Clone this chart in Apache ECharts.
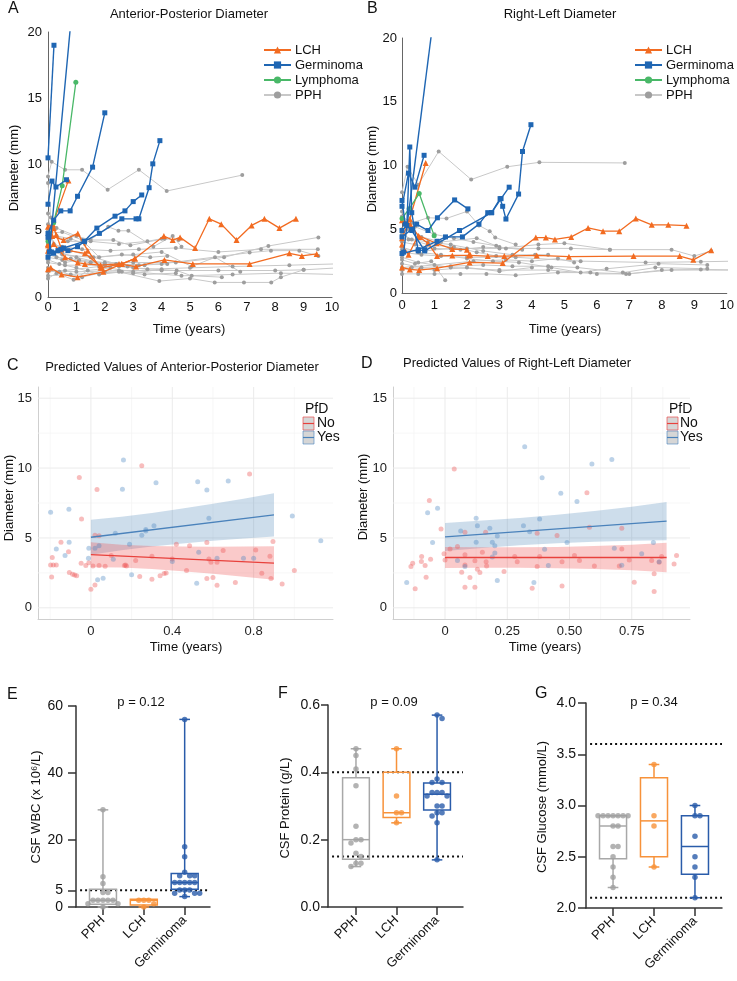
<!DOCTYPE html>
<html>
<head>
<meta charset="utf-8">
<script src="https://cdn.jsdelivr.net/npm/echarts@6/dist/echarts.min.js"></script>
<style>
html,body{margin:0;padding:0;background:#fff}
#main{width:737px;height:981px}
</style>
</head>
<body>
<div id="main"></div>
<script>
// ---- A: anterior-posterior diameter, one track per patient [years, mm]
var apLCH = [
  [[0,5.3],[0.17,5.5],[0.72,8.8]],
  [[0,4.0],[0.15,4.6],[0.55,4.3],[1.05,4.8],[1.4,3.5],[1.85,2.2],[2.6,2.5],[3.06,2.9],[4.08,4.6],[4.39,4.3],[4.65,4.5],[5.18,3.7],[5.68,5.9],[6.1,5.5],[6.64,4.3],[7.17,5.4],[7.62,5.9],[8.15,5.2],[8.73,5.9]],
  [[0,3.5],[0.2,4.0],[0.6,3.0],[1.05,2.6],[1.3,2.5],[1.85,2.4],[2.5,2.5],[3.1,2.3],[4.1,2.8],[5.1,2.5],[7.1,2.5],[8.5,3.3],[8.94,3.1],[9.46,3.25]],
  [[0,2.1],[0.1,2.2],[0.48,1.7],[1.04,1.5],[1.95,1.9],[2.6,2.5],[3.06,2.9]],
  [[0,3.9],[0.2,5.2],[0.29,4.7],[0.48,3.6],[1.3,3.3],[1.9,2.2]]
];
var apGerm = [
  [[0,10.5],[0.21,19.0]],
  [[0.05,3.4],[0.85,21.8]],
  [[0,7.0],[0.14,8.75],[0.28,8.3],[0.65,8.85]],
  [[0,4.8],[0.2,5.8],[0.45,6.5],[0.78,6.5],[1.04,7.6],[1.57,9.8],[2.0,13.9]],
  [[0,3.0],[0.2,3.3],[0.45,3.6],[0.7,3.5],[1.04,3.8],[1.28,4.2],[1.72,5.2],[2.36,6.1],[2.71,6.5],[3.0,7.2],[3.3,7.7]],
  [[0,4.5],[0.12,3.4],[0.35,3.5],[0.55,3.7],[1.28,4.2],[1.81,4.8],[2.6,5.9],[3.1,5.9],[3.2,5.9],[3.56,8.25],[3.69,10.05],[3.94,11.8]]
];
var apLymph = [
  [[0,4.2],[0.2,5.6],[0.5,8.4],[0.98,16.2]]
];
var apPPH = [
  [[0,9.1],[0.13,10.2],[0.6,9.6],[1.2,9.6],[2.1,8.1],[3.2,9.6],[4.18,8.0],[6.84,9.2]],
  [[0,3.0],[0.5,2.8],[1.5,2.6],[3.0,2.6],[4.5,2.6],[6.2,3.0],[7.76,3.85],[9.52,4.5]],
  [[0,2.6],[0.6,2.4],[2.0,2.4],[4.0,2.5],[7.1,3.35],[7.85,3.5],[8.85,3.5],[9.52,3.1]],
  [[0,2.0],[1.0,1.9],[2.5,2.0],[4.0,2.0],[6.0,2.0],[8.0,2.0],[9.0,2.05],[10.2,2.2]],
  [[0,1.6],[0.8,1.7],[2.5,1.9],[3.92,1.2],[5.0,1.4],[5.87,1.1],[6.9,1.1],[7.86,1.1],[8.2,1.5],[9.0,2.05]],
  [[0,3.5],[0.5,3.2],[1.5,3.0],[3.0,3.2],[4.0,3.4],[5.06,2.3],[5.88,3.0],[6.77,1.9]],
  [[0,4.5],[0.3,4.6],[0.8,4.4],[1.3,4.0],[2.12,5.3],[2.48,5.0],[2.83,5.0],[3.71,3.8],[4.39,4.6],[4.7,3.8]],
  [[0,6.3],[0.1,4.5],[0.5,3.3],[1.0,3.0],[2.0,2.5],[3.0,2.2],[4.53,2.0],[5.06,1.6],[6.12,1.5]],
  [[0,8.6],[0.1,6.0],[0.3,4.6],[0.7,4.2],[1.5,4.2],[2.5,4.0],[3.5,4.2],[4.0,4.4]],
  [[0,3.2],[0.3,3.0],[0.8,2.9],[1.5,2.6],[2.5,2.3],[3.5,2.1],[5.0,2.2],[6.5,2.3],[8.5,2.4],[10.2,2.5]],
  [[0,2.2],[0.4,1.9],[1.2,1.5],[2.0,1.9],[3.0,1.8],[4.0,2.1]],
  [[0,5.0],[0.2,4.0],[0.8,3.5],[1.6,3.0],[2.4,2.5],[3.2,2.4],[4.2,2.5]],
  [[0,4.0],[0.5,3.8],[1.2,3.6],[2.2,3.5],[3.2,3.6],[4.5,3.7],[6.0,3.4],[7.5,3.6],[9.5,3.6]],
  [[0,2.8],[0.4,2.5],[1.0,2.2],[1.8,1.7],[2.6,1.9],[3.4,1.7],[4.5,1.8]],
  [[0,3.8],[0.2,3.3],[0.6,2.6],[1.1,2.8],[2.0,2.6],[2.8,2.3],[3.4,2.4]],
  [[0,1.4],[0.3,1.8],[0.9,1.3],[1.4,2.0],[2.2,2.2]],
  [[0,4.8],[0.5,4.9],[1.2,4.3],[1.8,3.0],[2.6,3.2],[3.6,3.0],[4.2,3.1]],
  [[0,5.5],[0.3,5.2],[1.0,4.6],[1.5,4.3],[2.3,4.3],[2.9,3.9],[4.1,4.4],[4.6,4.3]],
  [[0,1.9],[0.6,2.0],[1.8,2.3],[3.0,1.9],[4.7,1.6],[6.5,1.7],[8.2,1.8],[10.2,1.7]]
];

// ---- B: right-left diameter
var rlLCH = [
  [[0,4.3],[0.24,5.8],[0.73,10.2]],
  [[0,2.0],[0.24,1.85],[0.53,1.8],[1.08,1.95],[2.08,2.4],[3.1,2.35],[4.12,4.35],[4.43,4.35],[4.71,4.2],[5.21,4.4],[5.73,5.1],[6.19,4.85],[6.69,4.85],[7.2,5.85],[7.69,5.35],[8.2,5.35],[8.76,5.28]],
  [[0,5.7],[0.25,5.4],[0.53,4.4],[0.8,3.9],[1.08,2.9],[1.55,2.95],[2.06,2.95],[2.64,2.9],[3.15,2.9],[4.15,2.95],[5.14,2.85],[7.13,2.9],[8.55,2.9],[8.97,2.6],[9.52,3.35]],
  [[0,3.8],[0.2,3.0],[0.5,4.5],[1.06,3.9],[1.55,3.45],[2.0,3.4],[2.1,3.0]]
];
var rlGerm = [
  [[0.05,3.2],[0.95,21.2]],
  [[0,4.9],[0.15,5.3],[0.24,11.45],[0.3,6.3],[0.5,3.3],[0.7,3.4]],
  [[0,6.8],[0.2,9.4],[0.4,8.3],[0.68,10.8]],
  [[0,4.4],[0.3,5.0],[0.45,5.4],[0.8,4.9],[1.09,5.9],[1.62,7.3],[2.03,6.6]],
  [[0,3.1],[0.5,3.4],[1.08,4.06],[1.34,4.4],[1.86,4.4],[2.37,5.4],[2.64,6.3],[2.76,6.3],[3.02,7.4],[3.1,6.8],[3.2,5.8],[3.59,7.76],[3.71,11.1],[3.97,13.2]],
  [[0,7.26],[0.1,5.4],[0.3,4.9],[0.7,3.3],[1.77,4.9],[2.76,6.3],[3.05,7.4],[3.3,8.3]]
];
var rlLymph = [
  [[0,5.85],[0.22,6.6],[0.53,7.8],[0.99,4.5]]
];
var rlPPH = [
  [[0,7.9],[0.17,9.9],[0.5,8.5],[1.13,11.1],[2.13,8.9],[3.24,9.9],[4.23,10.25],[6.86,10.2]],
  [[0,6.0],[0.3,5.5],[0.8,5.9],[1.37,5.85],[2.0,6.4],[2.37,5.3],[2.7,4.85],[2.87,4.35],[3.5,3.8]],
  [[0,3.2],[0.6,3.0],[1.2,2.9],[2.0,2.8],[3.5,2.8],[5.5,2.5],[7.5,2.4],[9.2,2.45],[10.3,2.5]],
  [[0,2.8],[0.5,2.4],[1.5,2.0],[3.0,1.8],[4.5,1.8],[6.0,1.5],[7.0,1.5],[8.0,1.8],[9.2,1.85],[10.3,1.8]],
  [[0,1.5],[0.5,1.5],[1.0,1.5],[1.8,1.5],[2.6,1.5],[3.5,1.4],[4.8,1.6],[5.8,1.6],[6.9,1.5],[8.3,1.8],[10.3,1.8]],
  [[0,4.0],[0.4,3.8],[1.0,3.5],[1.8,3.4],[2.5,3.6],[3.2,3.5],[4.2,3.5],[5.2,3.5],[6.4,3.4]],
  [[0,3.6],[0.5,3.2],[1.2,3.0],[2.0,2.7],[2.8,2.5],[3.6,2.4],[4.6,2.0],[5.5,1.6],[6.3,1.9],[7.9,2.3],[9.4,2.2]],
  [[0,5.0],[0.2,4.2],[0.8,3.8],[1.6,3.6],[2.3,3.2],[2.9,2.9]],
  [[0,2.6],[0.4,2.3],[0.9,2.5],[1.33,1.0]],
  [[0,4.6],[0.3,4.2],[0.8,4.0],[1.5,3.8],[2.5,3.3],[3.4,3.0],[4.1,3.0],[4.5,3.0]],
  [[0,3.4],[0.7,3.3],[1.5,3.5],[2.0,3.5],[3.0,3.5],[4.2,3.8],[5.0,3.9],[6.4,3.4],[8.3,3.4],[9.0,2.9],[9.52,3.3]],
  [[0,2.3],[0.6,2.0],[1.5,2.1],[2.5,2.2],[3.4,2.1],[4.5,2.1],[5.4,2.0],[6.8,1.6],[7.8,2.0],[9.4,1.9]],
  [[0,1.8],[0.3,2.0],[1.0,1.8],[2.0,2.0],[3.0,1.7],[4.0,2.0]],
  [[0,4.8],[0.4,5.2],[1.0,4.6],[1.6,4.3],[2.2,4.0],[2.9,3.7]],
  [[0,2.0],[1.0,2.2],[2.2,2.5],[3.2,2.6],[4.0,2.5],[4.8,2.7],[5.3,2.4]],
  [[0,6.4],[0.2,5.0],[0.6,4.4],[1.2,4.0],[2.3,4.3],[3.0,3.6],[3.7,3.4]]
];

// ---- C: predicted AP diameter, points [years, mm]
var cNoPts = [[-0.198,3.07],[-0.185,3.07],[-0.17,3.07],[-0.19,3.6],[-0.193,2.2],[-0.147,4.7],[-0.11,4.02],[-0.106,2.52],[-0.09,2.4],[-0.08,2.35],[-0.07,2.3],[-0.057,9.33],[-0.046,6.36],[-0.048,3.19],[-0.025,3.02],[-0.01,3.23],[0,1.33],[0.02,5.2],[0.04,5.15],[0.01,3.0],[0.04,3.02],[0.07,2.98],[0.03,8.47],[0.02,1.64],[0.1,3.74],[0.165,3.02],[0.17,3.06],[0.175,3.0],[0.22,3.38],[0.25,10.17],[0.24,2.24],[0.3,3.69],[0.3,2.05],[0.34,2.3],[0.36,2.45],[0.37,2.5],[0.4,3.5],[0.42,4.55],[0.47,2.67],[0.485,4.45],[0.57,4.67],[0.57,2.1],[0.6,2.17],[0.58,3.5],[0.59,3.26],[0.62,3.26],[0.62,1.62],[0.65,4.1],[0.71,1.81],[0.78,9.57],[0.81,4.14],[0.84,2.48],[0.88,3.69],[0.885,2.1],[0.895,4.74],[0.94,1.71],[1.0,2.67]];
var cYesPts = [[-0.198,6.83],[-0.108,7.05],[-0.107,4.7],[-0.17,4.21],[-0.127,3.74],[-0.01,4.26],[-0.012,3.55],[0.02,4.26],[0.04,4.45],[0.033,2.0],[0.06,2.12],[0.12,5.33],[0.11,3.48],[0.155,8.48],[0.16,10.57],[0.19,4.55],[0.2,2.36],[0.25,5.2],[0.27,5.6],[0.27,5.5],[0.31,5.88],[0.32,8.95],[0.4,3.31],[0.52,1.76],[0.525,9.02],[0.53,3.98],[0.57,8.43],[0.58,6.4],[0.62,3.55],[0.675,9.07],[0.75,3.55],[0.8,3.55],[0.99,6.57],[1.13,4.8]];
var cBandT = [0,0.15,0.3,0.45,0.6,0.75,0.9];
var cNoUp = [4.7,4.52,4.42,4.38,4.37,4.38,4.4];
var cNoLo = [2.9,2.88,2.78,2.62,2.43,2.22,2.0];
var cYesUp = [6.3,6.52,6.78,7.1,7.44,7.8,8.2];
var cYesLo = [3.8,4.12,4.38,4.6,4.8,4.96,5.1];
var cFitT = [0,0.9];
var cNoFit = [3.8,3.2];
var cYesFit = [5.05,6.65];
var cXMajor = [0,0.4,0.8], cXMinor = [-0.2,0.2,0.6,1.0];

// ---- D: predicted RL diameter
var dNoPts = [[-0.137,2.95],[-0.13,3.19],[-0.094,3.67],[-0.095,3.31],[-0.08,3.02],[-0.076,2.19],[-0.12,1.36],[-0.063,7.67],[-0.058,3.48],[-0.016,5.64],[-0.004,3.86],[0,3.43],[0.02,4.21],[0.037,9.93],[0.05,4.38],[0.08,5.4],[0.067,2.55],[0.08,3.07],[0.08,3.8],[0.08,1.48],[0.1,2.17],[0.12,3.36],[0.13,2.76],[0.14,2.52],[0.12,1.48],[0.15,3.98],[0.163,5.4],[0.165,3.3],[0.167,3.0],[0.237,2.6],[0.28,3.67],[0.29,3.3],[0.35,1.4],[0.37,2.95],[0.37,5.33],[0.38,3.67],[0.45,5.17],[0.47,1.57],[0.47,3.3],[0.52,3.74],[0.54,3.38],[0.57,8.24],[0.58,5.76],[0.6,3.0],[0.7,3.0],[0.71,4.21],[0.71,5.69],[0.74,3.43],[0.76,1.83],[0.83,3.38],[0.84,2.43],[0.84,1.17],[0.86,3.26],[0.87,3.67],[0.92,3.14],[0.93,3.74]];
var dYesPts = [[-0.154,1.81],[-0.07,6.81],[-0.03,7.12],[-0.05,4.67],[0.05,3.38],[0.063,5.5],[0.08,2.95],[0.125,6.4],[0.13,5.88],[0.125,4.7],[0.18,5.69],[0.19,4.7],[0.19,3.64],[0.2,3.93],[0.2,4.45],[0.21,5.14],[0.21,1.95],[0.315,5.88],[0.32,11.52],[0.34,5.45],[0.357,1.81],[0.38,6.36],[0.39,9.31],[0.4,4.19],[0.415,3.02],[0.465,8.19],[0.49,4.67],[0.53,7.6],[0.59,10.29],[0.67,10.62],[0.68,4.26],[0.71,3.05],[0.79,3.86],[0.837,4.67],[0.86,3.3]];
var dBandT = [0,0.15,0.3,0.45,0.6,0.75,0.89];
var dNoUp = [4.35,4.33,4.33,4.36,4.42,4.52,4.65];
var dNoLo = [2.85,2.87,2.87,2.84,2.78,2.68,2.55];
var dYesUp = [6.07,6.24,6.43,6.66,6.93,7.24,7.57];
var dYesLo = [4.07,4.28,4.47,4.62,4.73,4.8,4.83];
var dFitT = [0,0.89];
var dNoFit = [3.6,3.6];
var dYesFit = [5.07,6.2];
var dXMajor = [0,0.25,0.5,0.75], dXMinor = [-0.125,0.125,0.375,0.625,0.875];
var cdYMajor = [0,5,10,15], cdYMinor = [2.5,7.5,12.5];

// ---- E/F/G: CSF values per group
var groups = ['PPH', 'LCH', 'Germinoma'];
var wbcPts = [
  [29,9,7,4.3,4.3,2,2,2,2,2,1,1,0],
  [2,2,2,1,0],
  [56,18,15,10.4,9.3,9.3,9.3,7.3,7.3,7.3,7.3,7.3,5.1,5.1,5.1,4.1,4.1,4.1,3.1]
];
var wbcBox = [[0,0.8,2,5.3,29],[0,0.6,2,2.3,2.3],[3.1,5.3,7.3,10.0,56]]; // min,q1,median,q3,max
var protPts = [
  [0.47,0.45,0.41,0.36,0.24,0.20,0.20,0.19,0.16,0.15,0.13,0.13,0.12],
  [0.47,0.33,0.28,0.28,0.25],
  [0.57,0.56,0.38,0.37,0.37,0.34,0.34,0.34,0.33,0.33,0.30,0.30,0.28,0.28,0.27,0.25,0.14]
];
var protBox = [[0.12,0.142,0.20,0.384,0.47],[0.25,0.266,0.28,0.40,0.47],[0.14,0.288,0.335,0.368,0.57]];
var glucPts = [
  [2.9,2.9,2.9,2.9,2.9,2.9,2.9,2.8,2.8,2.6,2.6,2.5,2.4,2.3,2.2],
  [3.4,2.9,2.8,2.4],
  [3.0,2.9,2.9,2.7,2.5,2.4,2.3,2.1]
];
var glucBox = [[2.2,2.48,2.8,2.9,2.9],[2.4,2.5,2.85,3.27,3.4],[2.1,2.33,2.6,2.9,3.0]];
var wbcRef = [5], protRef = [0.4, 0.15], glucRef = [3.6, 2.1];
var pValues = ['p = 0.12', 'p = 0.09', 'p = 0.34'];

// ---------------------------------------------------------------
var FONT = '"Liberation Sans", Arial, Helvetica, sans-serif';
var C_LCH = '#f26b21', C_GERM = '#1f66b3', C_LYM = '#49b868', C_PPH = '#9e9e9e', C_PPHL = '#c8c8c8';
var RED = '#e8413c', BLUE = '#4a82bb';
var boxColors = ['#a8a8a8', '#f7923a', '#2a5caa'];

var chart = echarts.init(document.getElementById('main'), null, {renderer: 'canvas'});
var series = [];

function tracks(list, name, gi, color, lineColor, symbol, size, width, z) {
  list.forEach(function (d) {
    series.push({
      type: 'line', name: name, xAxisIndex: gi, yAxisIndex: gi, data: d,
      symbol: symbol, symbolSize: size, showSymbol: true, showAllSymbol: true,
      lineStyle: {color: lineColor, width: width}, itemStyle: {color: color},
      clip: true, silent: true, z: z
    });
  });
}
tracks(apPPH, 'PPH', 0, C_PPH, C_PPHL, 'circle', 4, 1, 2);
tracks(apLCH, 'LCH', 0, C_LCH, C_LCH, 'triangle', 6, 1.3, 3);
tracks(apLymph, 'Lymphoma', 0, C_LYM, C_LYM, 'circle', 5, 1.3, 3);
tracks(apGerm, 'Germinoma', 0, C_GERM, C_GERM, 'rect', 5, 1.4, 4);
tracks(rlPPH, 'PPH', 1, C_PPH, C_PPHL, 'circle', 4, 1, 2);
tracks(rlLCH, 'LCH', 1, C_LCH, C_LCH, 'triangle', 6, 1.3, 3);
tracks(rlLymph, 'Lymphoma', 1, C_LYM, C_LYM, 'circle', 5, 1.3, 3);
tracks(rlGerm, 'Germinoma', 1, C_GERM, C_GERM, 'rect', 5, 1.4, 4);

function seg(gi, a, b, style, z) {
  series.push({type: 'line', xAxisIndex: gi, yAxisIndex: gi, data: [a, b], symbol: 'none',
    lineStyle: style, silent: true, z: z});
}
function gridLines(gi, xr, yr, xMaj, xMin, yMaj, yMin) {
  var maj = {color: '#ebebeb', width: 1}, mnr = {color: '#f4f4f4', width: 0.7};
  xMin.forEach(function (x) { seg(gi, [x, yr[0]], [x, yr[1]], mnr, 0); });
  yMin.forEach(function (y) { seg(gi, [xr[0], y], [xr[1], y], mnr, 0); });
  xMaj.forEach(function (x) { seg(gi, [x, yr[0]], [x, yr[1]], maj, 0); });
  yMaj.forEach(function (y) { seg(gi, [xr[0], y], [xr[1], y], maj, 0); });
}
function band(gi, ts, up, lo, fill) {
  series.push({
    type: 'custom', xAxisIndex: gi, yAxisIndex: gi, data: [[ts[0], up[0]]], silent: true, z: 2,
    renderItem: function (params, api) {
      var pts = [], i;
      for (i = 0; i < ts.length; i++) pts.push(api.coord([ts[i], up[i]]));
      for (i = ts.length - 1; i >= 0; i--) pts.push(api.coord([ts[i], lo[i]]));
      return {type: 'polygon', shape: {points: pts}, style: {fill: fill}};
    }
  });
}
function pts(gi, data, color) {
  series.push({type: 'scatter', xAxisIndex: gi, yAxisIndex: gi, data: data, symbolSize: 5,
    itemStyle: {color: color}, silent: true, z: 3});
}
function fit(gi, ts, vals, color) {
  series.push({type: 'line', xAxisIndex: gi, yAxisIndex: gi,
    data: ts.map(function (t, i) { return [t, vals[i]]; }),
    symbol: 'none', lineStyle: {color: color, width: 1.3}, silent: true, z: 4});
}

var cXR = [-0.26, 1.19], dXR = [-0.209, 0.984], cdYR = [-0.8, 15.8];
gridLines(2, cXR, cdYR, cXMajor, cXMinor, cdYMajor, cdYMinor);
gridLines(3, dXR, cdYR, dXMajor, dXMinor, cdYMajor, cdYMinor);
band(2, cBandT, cYesUp, cYesLo, 'rgba(70,130,180,0.27)');
band(2, cBandT, cNoUp, cNoLo, 'rgba(240,80,80,0.30)');
band(3, dBandT, dYesUp, dYesLo, 'rgba(70,130,180,0.27)');
band(3, dBandT, dNoUp, dNoLo, 'rgba(240,80,80,0.30)');
pts(2, cNoPts, 'rgba(238,90,90,0.5)');
pts(2, cYesPts, 'rgba(70,130,190,0.45)');
pts(3, dNoPts, 'rgba(238,90,90,0.5)');
pts(3, dYesPts, 'rgba(70,130,190,0.45)');
fit(2, cFitT, cNoFit, RED);
fit(2, cFitT, cYesFit, BLUE);
fit(3, dFitT, dNoFit, RED);
fit(3, dFitT, dYesFit, BLUE);

// beeswarm in pixel space so dots of equal values sit side by side
function swarm(vals, c, pxX, pxY) {
  var d = 5, placed = [];
  vals.slice().sort(function (a, b) { return b - a; }).forEach(function (v) {
    var y = v * pxY;
    for (var k = 0; k < 60; k++) {
      var cands = k === 0 ? [0] : [k * d / 2, -k * d / 2], got = null;
      for (var j = 0; j < cands.length && got === null; j++) {
        var x = cands[j], hit = false;
        for (var p = 0; p < placed.length; p++) {
          var dx = placed[p].x - x, dy = placed[p].y - y;
          if (dx * dx + dy * dy < d * d * 0.95) { hit = true; break; }
        }
        if (!hit) got = x;
      }
      if (got !== null) { placed.push({x: got, y: y, v: v}); break; }
    }
  });
  return placed.map(function (p) { return [c + p.x / pxX, p.v]; });
}

function boxPanel(gi, boxes, points, refs, xr, yr, gw, gh) {
  var pxX = gw / (xr[1] - xr[0]), pxY = gh / (yr[1] - yr[0]);
  refs.forEach(function (r) {
    seg(gi, [xr[0] + 0.1, r], [xr[1], r], {color: '#111', width: 2, type: [2, 3]}, 1);
  });
  series.push({
    type: 'custom', xAxisIndex: gi, yAxisIndex: gi, silent: true, z: 2,
    data: boxes.map(function (b, i) { return [i].concat(b); }),
    renderItem: function (params, api) {
      var x = api.value(0), col = boxColors[params.dataIndex];
      var w = api.size([0.66, 0])[0], cw = api.size([0.26, 0])[0];
      var mn = api.coord([x, api.value(1)]), q1 = api.coord([x, api.value(2)]),
          md = api.coord([x, api.value(3)]), q3 = api.coord([x, api.value(4)]),
          mx = api.coord([x, api.value(5)]);
      var st = {stroke: col, lineWidth: 1.5, fill: 'none'};
      function ln(x1, y1, x2, y2) { return {type: 'line', shape: {x1: x1, y1: y1, x2: x2, y2: y2}, style: st}; }
      return {type: 'group', children: [
        ln(mn[0], mn[1], q1[0], q1[1]),
        ln(q3[0], q3[1], mx[0], mx[1]),
        ln(mn[0] - cw / 2, mn[1], mn[0] + cw / 2, mn[1]),
        ln(mx[0] - cw / 2, mx[1], mx[0] + cw / 2, mx[1]),
        {type: 'rect', shape: {x: q1[0] - w / 2, y: q3[1], width: w, height: q1[1] - q3[1]}, style: st},
        ln(md[0] - w / 2, md[1], md[0] + w / 2, md[1])
      ]};
    }
  });
  points.forEach(function (vals, i) {
    series.push({type: 'scatter', xAxisIndex: gi, yAxisIndex: gi, data: swarm(vals, i, pxX, pxY),
      symbolSize: 5.5, itemStyle: {color: boxColors[i] === '#a8a8a8' ? '#a0a0a0' : boxColors[i]},
      silent: true, z: 3});
  });
}
var eXR = [-0.66, 2.62], fXR = [-0.69, 2.64], gXR = [-0.66, 2.66];
boxPanel(4, wbcBox, wbcPts, wbcRef, eXR, [0, 60], 134, 201);
boxPanel(5, protBox, protPts, protRef, fXR, [0, 0.6], 135, 202);
boxPanel(6, glucBox, glucPts, glucRef, gXR, [2, 4], 136, 205);

// ---- axes
var lblA = {fontSize: 13, color: '#111', fontFamily: FONT};
function trackAxes(gi, xm, ym) {
  return [{
    gridIndex: gi, type: 'value', min: 0, max: 10, interval: 1,
    axisLine: {show: true, onZero: false, lineStyle: {color: '#666', width: 1}},
    axisTick: {show: false}, splitLine: {show: false},
    axisLabel: Object.assign({margin: xm}, lblA)
  }, {
    gridIndex: gi, type: 'value', min: 0, max: 20, interval: 5,
    axisLine: {show: true, onZero: false, lineStyle: {color: '#666', width: 1}},
    axisTick: {show: false}, splitLine: {show: false},
    axisLabel: Object.assign({margin: ym}, lblA)
  }];
}
function predAxes(gi, xr, xMaj, fmt) {
  return [{
    gridIndex: gi, type: 'value', min: xr[0], max: xr[1],
    axisLine: {show: true, onZero: false, lineStyle: {color: '#cfcfcf', width: 1}},
    axisTick: {show: false}, splitLine: {show: false},
    axisLabel: {customValues: xMaj, formatter: fmt, margin: 6, fontSize: 13, color: '#222', fontFamily: FONT}
  }, {
    gridIndex: gi, type: 'value', min: cdYR[0], max: cdYR[1],
    axisLine: {show: true, onZero: false, lineStyle: {color: '#cfcfcf', width: 1}},
    axisTick: {show: false}, splitLine: {show: false},
    axisLabel: {customValues: cdYMajor, margin: 6, fontSize: 13, color: '#222', fontFamily: FONT}
  }];
}
var dark = {color: '#333', width: 1.5};
function boxAxes(gi, xr, yAxis) {
  return [{
    gridIndex: gi, type: 'value', min: xr[0], max: xr[1],
    axisLine: {show: true, onZero: false, lineStyle: dark},
    axisTick: {show: true, customValues: [0, 1, 2], length: 8, lineStyle: dark},
    splitLine: {show: false},
    axisLabel: {customValues: [0, 1, 2], rotate: 45, margin: 11,
      formatter: function (v) { return groups[Math.round(v)]; },
      fontSize: 13, color: '#111', fontFamily: FONT}
  }, Object.assign({
    gridIndex: gi, type: 'value',
    axisLine: {show: true, onZero: false, lineStyle: dark},
    splitLine: {show: false}
  }, yAxis)];
}
var lblB = {fontSize: 14, color: '#111', fontFamily: FONT};
var ax = [
  trackAxes(0, 4, 6), trackAxes(1, 6, 5),
  predAxes(2, cXR, cXMajor, function (v) { return v === 0 ? '0' : String(v); }),
  predAxes(3, dXR, dXMajor, function (v) { return v === 0 ? '0' : v.toFixed(2); }),
  boxAxes(4, eXR, {min: 0, max: 60,
    axisTick: {show: true, customValues: [0, 5, 20, 40, 60], length: 8, lineStyle: dark},
    axisLabel: Object.assign({customValues: [0, 5, 20, 40, 60], margin: 13}, lblB)}),
  boxAxes(5, fXR, {min: 0, max: 0.6, interval: 0.2,
    axisTick: {show: true, length: 7, lineStyle: dark},
    axisLabel: Object.assign({margin: 8, formatter: function (v) { return v.toFixed(1); }}, lblB)}),
  boxAxes(6, gXR, {min: 2, max: 4, interval: 0.5,
    axisTick: {show: true, length: 8, lineStyle: dark},
    axisLabel: Object.assign({margin: 10, formatter: function (v) { return v.toFixed(1); }}, lblB)})
];

// ---- free text
function txt(x, y, s, size, align, rot, color) {
  return {type: 'text', x: x, y: y, rotation: rot || 0, silent: true, z: 50,
    style: {text: s, x: 0, y: 0, fontSize: size, fontFamily: FONT, fill: color || '#111',
      align: align || 'center', textAlign: align || 'center', verticalAlign: 'middle', textVerticalAlign: 'middle'}};
}
var V = Math.PI / 2;
function pfdLegend(x, tx) {
  var out = [txt(x + 2, 409, 'PfD', 14, 'left')];
  [[417, 'rgba(235,80,80,0.7)', RED, 'No'], [431, 'rgba(70,130,190,0.6)', BLUE, 'Yes']].forEach(function (k) {
    out.push({type: 'rect', silent: true, z: 50, shape: {x: x, y: k[0], width: 11, height: 13},
      style: {fill: '#d6d6d6', stroke: k[1], lineWidth: 1}});
    out.push({type: 'line', silent: true, z: 51, shape: {x1: x, y1: k[0] + 6.5, x2: x + 11, y2: k[0] + 6.5},
      style: {stroke: k[2], lineWidth: 1.2}});
    out.push(txt(tx, k[0] + 6.5, k[3], 14, 'left'));
  });
  return out;
}
var graphics = [
  txt(8, 9, 'A', 16, 'left'), txt(189, 14, 'Anterior-Posterior Diameter', 13),
  txt(367, 9, 'B', 16, 'left'), txt(560, 14, 'Right-Left Diameter', 13),
  txt(14, 168, 'Diameter (mm)', 13, 'center', V), txt(372, 169, 'Diameter (mm)', 13, 'center', V),
  txt(189, 329, 'Time (years)', 13), txt(565, 329, 'Time (years)', 13),
  txt(7, 366, 'C', 16, 'left'), txt(182, 367, 'Predicted Values of Anterior-Posterior Diameter', 13),
  txt(361, 364, 'D', 16, 'left'), txt(517, 363, 'Predicted Values of Right-Left Diameter', 13),
  txt(9, 498, 'Diameter (mm)', 13, 'center', V), txt(363, 497, 'Diameter (mm)', 13, 'center', V),
  txt(186, 647, 'Time (years)', 13), txt(545, 647, 'Time (years)', 13),
  txt(7, 695, 'E', 16, 'left'), txt(141, 702, pValues[0], 13),
  txt(278, 694, 'F', 16, 'left'), txt(394, 702, pValues[1], 13),
  txt(535, 694, 'G', 16, 'left'), txt(654, 702, pValues[2], 13),
  txt(36, 807, 'CSF WBC (x 10\u2076/L)', 13, 'center', V),
  txt(285, 808, 'CSF Protein (g/L)', 13, 'center', V),
  txt(542, 807, 'CSF Glucose (mmol/L)', 13, 'center', V)
].concat(pfdLegend(303, 317), pfdLegend(667, 680));

var legendBase = {
  orient: 'vertical', itemWidth: 27, itemHeight: 9, itemGap: 1,
  data: ['LCH', 'Germinoma', 'Lymphoma', 'PPH'], selectedMode: false,
  textStyle: {fontSize: 13, color: '#111', fontFamily: FONT, lineHeight: 14, padding: [0, 0, 0, -1]}
};

chart.setOption({
  animation: false,
  textStyle: {fontFamily: FONT},
  grid: [
    {left: 48, top: 32, width: 284, height: 265},
    {left: 402, top: 38, width: 327, height: 255},
    {left: 38, top: 387, width: 295, height: 232},
    {left: 393, top: 387, width: 297, height: 232},
    {left: 76, top: 706, width: 134, height: 201},
    {left: 328, top: 705, width: 135, height: 202},
    {left: 586, top: 703, width: 136, height: 205}
  ],
  xAxis: ax.map(function (a) { return a[0]; }),
  yAxis: ax.map(function (a) { return a[1]; }),
  legend: [
    Object.assign({left: 258, top: 38}, legendBase),
    Object.assign({left: 629, top: 38}, legendBase)
  ],
  graphic: graphics,
  series: series
});
</script>
</body>
</html>
